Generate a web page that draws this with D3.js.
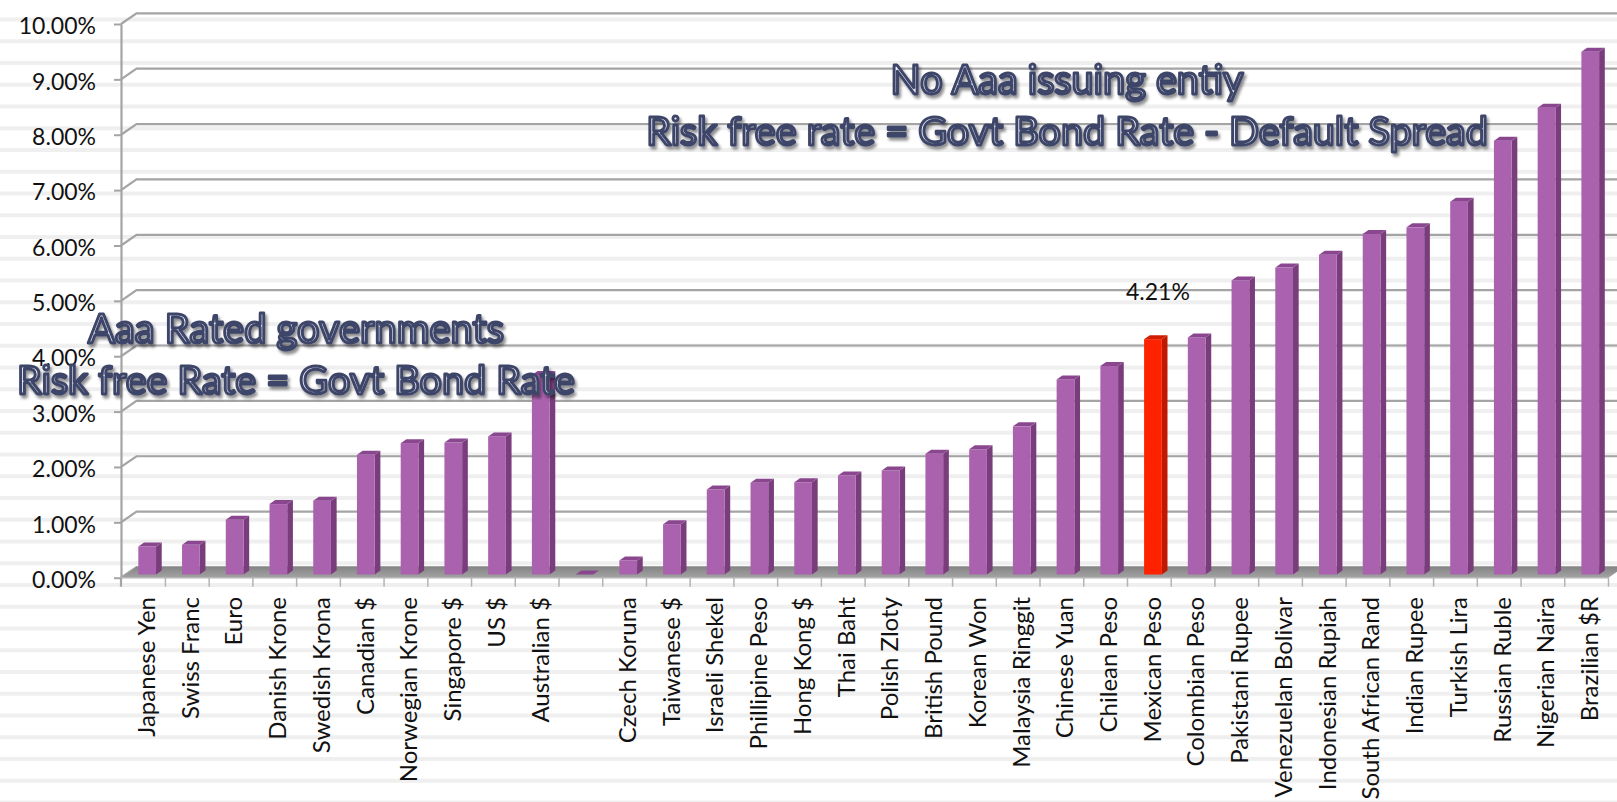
<!DOCTYPE html>
<html><head><meta charset="utf-8">
<script src="https://cdn.jsdelivr.net/npm/d3@7/dist/d3.min.js"></script>
<style>html,body{margin:0;padding:0;background:#fff;overflow:hidden;} svg{display:block;}</style>
</head><body>
<svg id="chart" width="1617" height="802"></svg>
<script>
// ---------------- data ----------------
const categories = ["Japanese Yen","Swiss Franc","Euro","Danish Krone","Swedish Krona","Canadian $",
  "Norwegian Krone","Singapore $","US $","Australian $"," ","Czech Koruna","Taiwanese $",
  "Israeli Shekel","Phillipine Peso","Hong Kong $","Thai Baht","Polish Zloty","British Pound",
  "Korean Won","Malaysia Ringgit","Chinese Yuan","Chilean Peso","Mexican Peso","Colombian Peso",
  "Pakistani Rupee","Venezuelan Bolivar","Indonesian Rupiah","South African Rand","Indian Rupee",
  "Turkish Lira","Russian Ruble","Nigerian Naira","Brazilian $R"];
const values = [0.50,0.53,0.98,1.26,1.32,2.14,2.35,2.36,2.47,3.57,0,0.25,0.90,
  1.52,1.64,1.65,1.77,1.86,2.16,2.24,2.65,3.49,3.73,4.21,4.24,
  5.26,5.49,5.72,6.09,6.21,6.67,7.76,8.35,9.35];
const highlightCategory = "Mexican Peso";
const highlightLabel = "4.21%";
const yTickValues = [0,1,2,3,4,5,6,7,8,9,10];
const annotationAaa = ["Aaa Rated governments","Risk free Rate = Govt Bond Rate"];
const annotationNoAaa = ["No Aaa issuing entiy","Risk free rate = Govt Bond Rate - Default Spread"];

// ---------------- layout ----------------
const W = 1617, H = 802;
const FONT = "Lato, 'Open Sans', sans-serif";
const svg = d3.select("#chart");
const defs = svg.append("defs");

const shadow = defs.append("filter").attr("id","shadow").attr("x","-5%").attr("y","-20%").attr("width","110%").attr("height","150%");
shadow.append("feGaussianBlur").attr("in","SourceAlpha").attr("stdDeviation",1.6).attr("result","b");
shadow.append("feOffset").attr("in","b").attr("dx",2).attr("dy",3).attr("result","o");
shadow.append("feComponentTransfer").attr("in","o").attr("result","s")
  .append("feFuncA").attr("type","linear").attr("slope",0.45);
const fm = shadow.append("feMerge");
fm.append("feMergeNode").attr("in","s");
fm.append("feMergeNode").attr("in","SourceGraphic");

const txtGrad = defs.append("linearGradient").attr("id","txtGrad").attr("x1",0).attr("y1",0).attr("x2",0).attr("y2",1);
txtGrad.append("stop").attr("offset","0%").attr("stop-color","#fbfbfe");
txtGrad.append("stop").attr("offset","100%").attr("stop-color","#dcdfec");

const floorGrad = defs.append("linearGradient").attr("id","floorGrad").attr("x1",0).attr("y1",0).attr("x2",0).attr("y2",1);
floorGrad.append("stop").attr("offset","0%").attr("stop-color","#858585");
floorGrad.append("stop").attr("offset","100%").attr("stop-color","#a3a3a3");

// background stripes
svg.append("g").selectAll("rect").data(d3.range(17.5, H, 21.75)).join("rect")
  .attr("x",0).attr("width",W).attr("y",d=>d).attr("height",4).attr("fill","#efefef");

// scales
const x = d3.scaleBand().domain(categories).range([121.7, 1608.5]).padding(0);
const yAxisScale = d3.scaleLinear().domain([0,10]).range([577.7, 24]);
const yBar = d3.scaleLinear().domain([0,10]).range([574.5, 574.5 - 559]);
const depth = {dx: 15.5, dy: -10.7};
const axisX = 121;

// back wall gridlines with side-wall diagonals
svg.append("g").selectAll("path").data(yTickValues).join("path")
  .attr("d", t => {
    const yf = yAxisScale(t);
    return `M${axisX},${yf}L${axisX+depth.dx},${yf+depth.dy}L${W+20},${yf+depth.dy}`;
  })
  .attr("fill","none").attr("stroke","#a4a4a4").attr("stroke-width",2.2);

// floor
const x0 = x.range()[0], x1 = x.range()[1], y0 = yAxisScale(0);
svg.append("path")
  .attr("d", `M${axisX},${y0}L${x1},${y0}L${x1+depth.dx},${y0+depth.dy}L${axisX+depth.dx},${y0+depth.dy}Z`)
  .attr("fill","url(#floorGrad)");

// bars
const step = x.step();
const bw = step*0.405, bdx = 5.7, bdy = -4;
const bars = svg.append("g").selectAll("g").data(categories.map((c,i)=>({c, v: values[i]}))).join("g");
bars.each(function(d){
  const g = d3.select(this);
  const hi = d.c === highlightCategory;
  const xl = x(d.c) + step*0.38, xr = xl + bw;
  const yt = yBar(d.v), yb = yBar(0);
  const cFront = hi ? "#ff2200" : "#ab62ae";
  const cSide  = hi ? "#c01900" : "#7a3d7c";
  const cTop   = hi ? "#d21e00" : "#8a4790";
  g.append("path").attr("d",`M${xr},${yt}L${xr+bdx},${yt+bdy}L${xr+bdx},${yb+bdy}L${xr},${yb}Z`).attr("fill",cSide);
  g.append("rect").attr("x",xl).attr("y",yt).attr("width",bw).attr("height",yb-yt).attr("fill",cFront);
  g.append("path").attr("d",`M${xl},${yt}L${xr},${yt}L${xr+bdx},${yt+bdy}L${xl+bdx},${yt+bdy}Z`).attr("fill",cTop);
});

// y axis
const yAxis = d3.axisLeft(yAxisScale).tickValues(yTickValues)
  .tickFormat(v => d3.format(".2%")(v/100)).tickSize(7).tickSizeOuter(0).tickPadding(18);
const ya = svg.append("g").attr("transform",`translate(${axisX},0)`).call(yAxis);
ya.select(".domain").attr("stroke","#a4a4a4").attr("stroke-width",2.2);
ya.selectAll(".tick line").attr("stroke","#a4a4a4").attr("stroke-width",2);
ya.selectAll(".tick text").attr("font-family",FONT).attr("font-size",23).attr("fill","#111").attr("dy","0.42em");
svg.append("line").attr("x1",axisX).attr("x2",axisX).attr("y1",y0).attr("y2",y0+9)
  .attr("stroke","#a4a4a4").attr("stroke-width",2.2);

// x axis
svg.append("line").attr("x1",axisX).attr("x2",x1).attr("y1",y0).attr("y2",y0).attr("stroke","#b4b4b4").attr("stroke-width",1.5);
svg.append("g").selectAll("line").data(categories.slice(1).map(c=>x(c)).concat([x1])).join("line")
  .attr("x1",d=>d).attr("x2",d=>d).attr("y1",y0).attr("y2",y0+9).attr("stroke","#b4b4b4").attr("stroke-width",1.5);
const xAxis = d3.axisBottom(x).tickSize(0).tickSizeOuter(0);
const xa = svg.append("g").attr("transform",`translate(3,597)`).call(xAxis);
xa.select(".domain").remove();
xa.selectAll(".tick text")
  .attr("font-family",FONT).attr("font-size",24).attr("fill","#111")
  .attr("transform","rotate(-90)").attr("text-anchor","end")
  .attr("x",0).attr("y",0).attr("dy","0.35em");

// highlight value label
svg.append("text").attr("x", x(highlightCategory)+step*0.38+bw/2+5).attr("y", 300)
  .attr("text-anchor","middle").attr("font-family",FONT).attr("font-size",23).attr("fill","#111")
  .text(highlightLabel);

// annotations
function annotate(lines, cx, baselines, widths){
  const g = svg.append("g").attr("filter","url(#shadow)");
  lines.forEach((s,i)=>{
    const t = g.append("text").attr("x",cx).attr("y",baselines[i]).attr("text-anchor","middle")
      .attr("font-family",FONT).attr("font-size",40)
      .attr("fill","url(#txtGrad)").attr("stroke","#3d4468").attr("stroke-width",2.9)
      .attr("stroke-linejoin","round").text(s);
    const len = t.node().getComputedTextLength();
    t.attr("font-size", 40*widths[i]/len);
  });
}
annotate(annotationAaa, 296, [343, 394], [416, 558]);
annotate(annotationNoAaa, 1067, [94, 145], [353, 842]);
</script>
</body></html>
